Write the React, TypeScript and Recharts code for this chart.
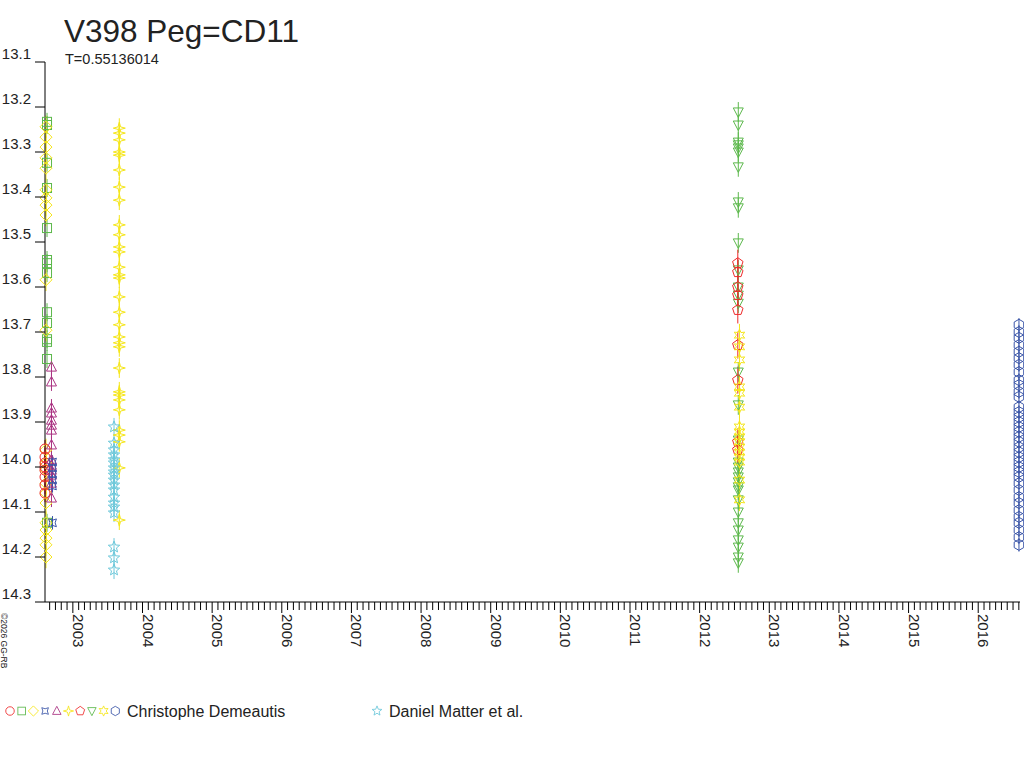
import { ScatterChart, Scatter, ErrorBar, XAxis, YAxis } from 'recharts'

const RED = '#ee2a2a'
const GREEN = '#5cb84c'
const YELLOW = '#f5e61a'
const BLUE = '#3a55a8'
const PURPLE = '#aa3382'
const CYAN = '#6cc8da'
const INK = '#222222'
const FONT = '"Liberation Sans", Arial, sans-serif'

// axis ticks
const Y_TICKS = [13.1, 13.2, 13.3, 13.4, 13.5, 13.6, 13.7, 13.8, 13.9, 14.0, 14.1, 14.2, 14.3]
const YEAR_LABELS = [2003, 2004, 2005, 2006, 2007, 2008, 2009, 2010, 2011, 2012, 2013, 2014, 2015, 2016]
const X_DOMAIN: [number, number] = [2002.6, 2016.6]

const MONTH_TICKS: number[] = []
for (let yr = 2002; yr <= 2016; yr++) {
  for (let m = 0; m < 12; m++) {
    const v = yr + m / 12
    if (v >= X_DOMAIN[0] - 1e-9 && v <= X_DOMAIN[1] + 1e-9) MONTH_TICKS.push(v)
  }
}

// Christophe Demeautis, 2002 season
const CIRCLE_DATE = 2002.6
const CIRCLE_MAGS = [13.96, 13.978, 13.991, 14.0, 14.007, 14.022, 14.04, 14.058]
const SQUARE_DATE = 2002.629
const SQUARE_MAGS = [13.233, 13.24, 13.324, 13.38, 13.469, 13.54, 13.547, 13.569, 13.656, 13.68, 13.716, 13.722, 13.76, 14.124]
const DIAMOND_DATE = 2002.614
const DIAMOND_MAGS = [13.244, 13.267, 13.289, 13.313, 13.336, 13.384, 13.402, 13.418, 13.44, 13.584, 13.696, 13.962, 13.991, 14.007, 14.036, 14.058, 14.08, 14.124, 14.14, 14.158, 14.173, 14.2]
const TRIANGLE_DATE = 2002.693
const TRIANGLE_MAGS = [13.778, 13.811, 13.869, 13.88, 13.896, 13.907, 13.918, 13.951, 13.984, 13.996, 14.007, 14.018, 14.036, 14.069]
const ASTROID_DATE = 2002.708
const ASTROID_MAGS = [13.989, 14.002, 14.016, 14.029, 14.042, 14.124]

// 2003 season
const STAR4_DATE = 2003.667
const STAR4_MAGS = [13.247, 13.258, 13.273, 13.3, 13.307, 13.34, 13.378, 13.407, 13.462, 13.484, 13.511, 13.522, 13.556, 13.573, 13.58, 13.622, 13.656, 13.684, 13.711, 13.724, 13.733, 13.78, 13.833, 13.84, 13.851, 13.873, 13.918, 13.929, 13.944, 14.002, 14.118]
const MATTER_DATE = 2003.591
const MATTER_MAGS = [13.911, 13.947, 13.962, 13.973, 13.984, 13.991, 14.002, 14.011, 14.018, 14.029, 14.04, 14.051, 14.067, 14.08, 14.089, 14.102, 14.178, 14.202, 14.229]

// 2012 season
const TRIDOWN_DATE = 2012.555
const TRIDOWN_MAGS = [13.211, 13.24, 13.278, 13.284, 13.291, 13.3, 13.333, 13.411, 13.424, 13.502, 13.562, 13.6, 13.618, 13.636, 13.789, 13.862, 13.94, 13.989, 14.0, 14.011, 14.022, 14.033, 14.044, 14.051, 14.073, 14.1, 14.124, 14.14, 14.162, 14.178, 14.2, 14.213]
const PENTAGON_DATE = 2012.548
const PENTAGON_MAGS = [13.547, 13.567, 13.6, 13.618, 13.651, 13.729, 13.807, 13.944, 13.962]
const STAR6_DATE = 2012.572
const STAR6_MAGS = [13.707, 13.733, 13.762, 13.822, 13.836, 13.867, 13.911, 13.922, 13.933, 13.944, 13.956, 13.967, 13.978, 13.989, 14.029, 14.073]

// 2016 season
const HEXAGON_DATE = 2016.585
const HEXAGON_MAGS = [13.684, 13.7, 13.713, 13.729, 13.744, 13.758, 13.773, 13.789, 13.807, 13.818, 13.833, 13.844, 13.867, 13.878, 13.889, 13.9, 13.911, 13.922, 13.933, 13.944, 13.956, 13.967, 13.978, 13.989, 14.0, 14.011, 14.022, 14.036, 14.051, 14.067, 14.08, 14.096, 14.111, 14.124, 14.14, 14.156, 14.173]

type Kind = 'circle' | 'square' | 'diamond' | 'astroid' | 'triangle' | 'star4' | 'pentagon' | 'tridown' | 'star6' | 'hexagon' | 'star5'

interface SeriesDef {
  id: string
  kind: Kind
  color: string
  date: number
  err: number
  mags: number[]
}

const SERIES: SeriesDef[] = [
  { id: 'square', kind: 'square', color: GREEN, date: SQUARE_DATE, err: 0.02, mags: SQUARE_MAGS },
  { id: 'diamond', kind: 'diamond', color: YELLOW, date: DIAMOND_DATE, err: 0.025, mags: DIAMOND_MAGS },
  { id: 'circle', kind: 'circle', color: RED, date: CIRCLE_DATE, err: 0.02, mags: CIRCLE_MAGS },
  { id: 'triangle', kind: 'triangle', color: PURPLE, date: TRIANGLE_DATE, err: 0.02, mags: TRIANGLE_MAGS },
  { id: 'astroid', kind: 'astroid', color: BLUE, date: ASTROID_DATE, err: 0.015, mags: ASTROID_MAGS },
  { id: 'star4', kind: 'star4', color: YELLOW, date: STAR4_DATE, err: 0.022, mags: STAR4_MAGS },
  { id: 'matter', kind: 'star5', color: CYAN, date: MATTER_DATE, err: 0.02, mags: MATTER_MAGS },
  { id: 'tridown', kind: 'tridown', color: GREEN, date: TRIDOWN_DATE, err: 0.022, mags: TRIDOWN_MAGS },
  { id: 'pentagon', kind: 'pentagon', color: RED, date: PENTAGON_DATE, err: 0.03, mags: PENTAGON_MAGS },
  { id: 'star6', kind: 'star6', color: YELLOW, date: STAR6_DATE, err: 0.025, mags: STAR6_MAGS },
  { id: 'hexagon', kind: 'hexagon', color: BLUE, date: HEXAGON_DATE, err: 0.015, mags: HEXAGON_MAGS },
]

const LEGEND_KINDS: { kind: Kind; color: string }[] = [
  { kind: 'circle', color: RED },
  { kind: 'square', color: GREEN },
  { kind: 'diamond', color: YELLOW },
  { kind: 'astroid', color: BLUE },
  { kind: 'triangle', color: PURPLE },
  { kind: 'star4', color: YELLOW },
  { kind: 'pentagon', color: RED },
  { kind: 'tridown', color: GREEN },
  { kind: 'star6', color: YELLOW },
  { kind: 'hexagon', color: BLUE },
]

function starPoints(n: number, rOut: number, rIn: number, rot: number) {
  const pts: string[] = []
  for (let i = 0; i < n * 2; i++) {
    const r = i % 2 === 0 ? rOut : rIn
    const a = rot + (i * Math.PI) / n
    pts.push(`${(r * Math.cos(a)).toFixed(2)},${(r * Math.sin(a)).toFixed(2)}`)
  }
  return pts.join(' ')
}

function polyPoints(n: number, r: number, rot: number) {
  const pts: string[] = []
  for (let i = 0; i < n; i++) {
    const a = rot + (i * 2 * Math.PI) / n
    pts.push(`${(r * Math.cos(a)).toFixed(2)},${(r * Math.sin(a)).toFixed(2)}`)
  }
  return pts.join(' ')
}

const UP = -Math.PI / 2

function Marker({ cx, cy, kind, color, s = 1 }: { cx: number; cy: number; kind: Kind; color: string; s?: number }) {
  const common = { fill: 'none', stroke: color, strokeWidth: 1 }
  let el
  switch (kind) {
    case 'circle': el = <circle r={5} {...common} />; break
    case 'square': el = <rect x={-4.5} y={-4.5} width={9} height={9} {...common} />; break
    case 'diamond': el = <polygon points="0,-6 6,0 0,6 -6,0" {...common} />; break
    case 'astroid': el = <polygon points={starPoints(4, 5.5, 2.6, Math.PI / 4)} {...common} />; break
    case 'triangle': el = <polygon points="0,-5.5 5,4 -5,4" {...common} />; break
    case 'star4': el = <polygon points={starPoints(4, 6, 1.8, 0)} {...common} />; break
    case 'pentagon': el = <polygon points={polyPoints(5, 5.5, UP)} {...common} />; break
    case 'tridown': el = <polygon points="-5,-4 5,-4 0,5.5" {...common} />; break
    case 'star6': el = <polygon points={starPoints(6, 6, 3, UP)} {...common} />; break
    case 'hexagon': el = <polygon points={polyPoints(6, 5.5, UP)} {...common} />; break
    default: el = <polygon points={starPoints(5, 6, 2.6, UP)} {...common} />
  }
  return <g transform={`translate(${cx},${cy}) scale(${s})`}>{el}</g>
}

function XTick(props: any) {
  const { x, y, payload } = props
  const v: number = payload.value
  const year = Math.round(v)
  const major = Math.abs(v - year) < 1e-6 && YEAR_LABELS.includes(year)
  return (
    <g>
      <line x1={x} x2={x} y1={y} y2={y + (major ? 11 : 8)} stroke="#000" />
      {major && (
        <text transform={`translate(${x},${y + 12}) rotate(90)`} fontSize={15} fontFamily={FONT} fill={INK}>
          {year}
        </text>
      )}
    </g>
  )
}

function YTick(props: any) {
  const { x, y, payload } = props
  return (
    <g>
      <line x1={x - 10} x2={x} y1={y} y2={y} stroke="#000" />
      <text x={x - 14} y={y - 3} textAnchor="end" fontSize={15} fontFamily={FONT} fill={INK}>
        {Number(payload.value).toFixed(1)}
      </text>
    </g>
  )
}

export default function App() {
  return (
    <div style={{ position: 'absolute', left: 0, top: 0, width: 1024, height: 768, background: '#fff' }}>
      <ScatterChart width={1024} height={768} margin={{ top: 62, right: 4, bottom: 106, left: 0 }}>
        <XAxis
          type="number"
          dataKey="x"
          domain={X_DOMAIN}
          ticks={MONTH_TICKS}
          interval={0}
          tickSize={0}
          tickMargin={0}
          tickLine={false}
          tick={<XTick />}
          height={60}
          stroke="#000"
        />
        <YAxis
          type="number"
          dataKey="y"
          domain={[13.1, 14.3]}
          reversed
          ticks={Y_TICKS}
          interval={0}
          tickSize={0}
          tickMargin={0}
          tickLine={false}
          tick={<YTick />}
          width={45}
          stroke="#000"
        />
        {SERIES.map((s) => (
          <Scatter
            key={s.id}
            data={s.mags.map((m) => ({ x: s.date, y: m, err: s.err }))}
            isAnimationActive={false}
            shape={(p: any) => <Marker cx={p.cx} cy={p.cy} kind={s.kind} color={s.color} />}
          >
            <ErrorBar dataKey="err" direction="y" width={0} stroke={s.color} strokeWidth={1} isAnimationActive={false} />
          </Scatter>
        ))}
      </ScatterChart>
      <svg width={1024} height={768} style={{ position: 'absolute', left: 0, top: 0, pointerEvents: 'none' }}>
        <text x={64} y={42} fontSize={31.5} fontFamily={FONT} fill={INK}>V398 Peg=CD11</text>
        <text x={65} y={64} fontSize={14.5} fontFamily={FONT} fill={INK}>T=0.55136014</text>
        <text transform="translate(1,613) rotate(90)" fontSize={8.5} fontFamily={FONT} fill={INK}>©2026 GG-RB</text>
        {LEGEND_KINDS.map((l, i) => (
          <Marker key={i} cx={10 + i * 11.7} cy={711} kind={l.kind} color={l.color} s={0.85} />
        ))}
        <text x={127} y={717} fontSize={16} fontFamily={FONT} fill={INK}>Christophe Demeautis</text>
        <Marker cx={377} cy={711} kind="star5" color={CYAN} s={0.85} />
        <text x={389} y={717} fontSize={16} fontFamily={FONT} fill={INK}>Daniel Matter et al.</text>
      </svg>
    </div>
  )
}
